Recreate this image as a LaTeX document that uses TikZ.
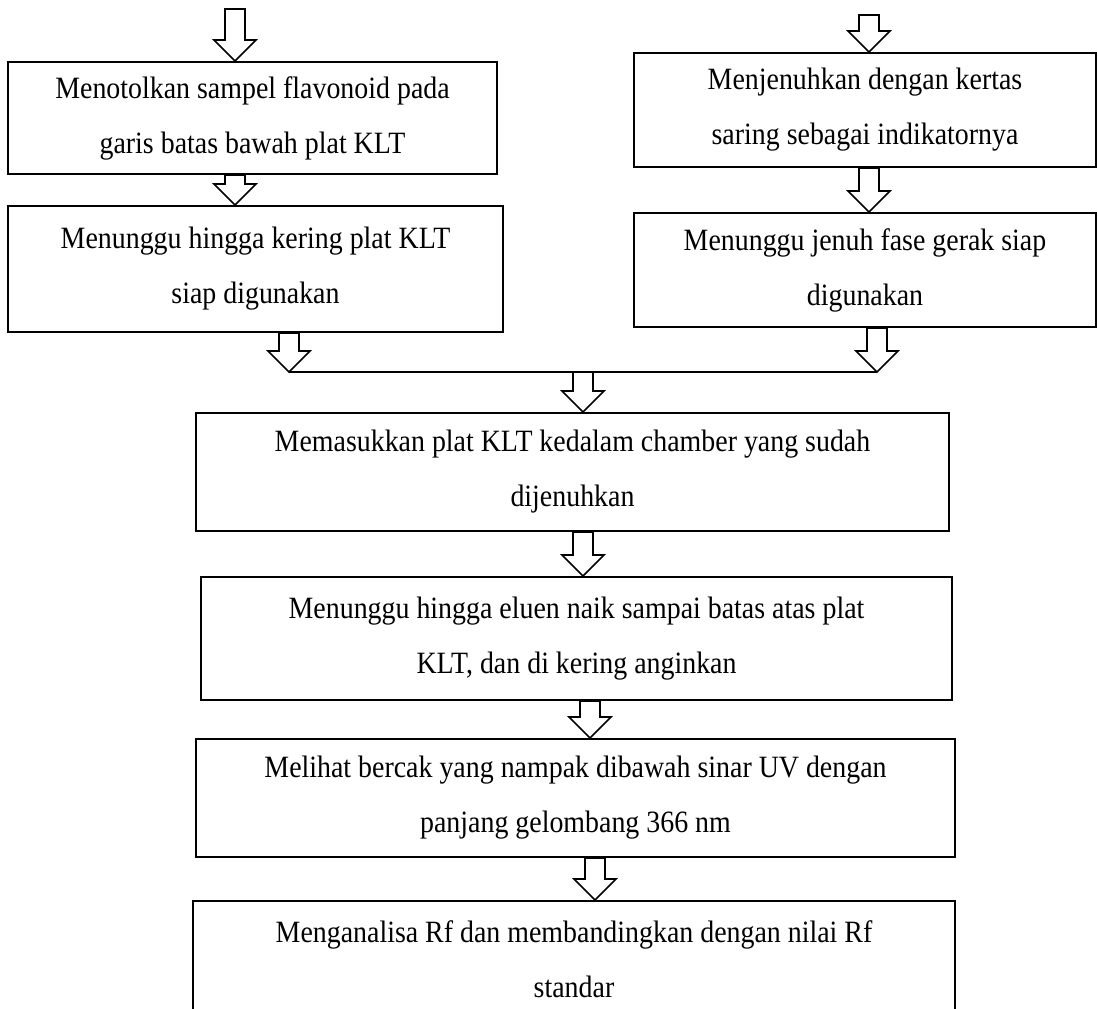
\documentclass[tikz,border=0pt]{standalone}
\usepackage{fontspec}
\setmainfont[FakeStretch=0.9]{Liberation Serif}
\usetikzlibrary{calc}

% panah blok berongga dari titik #1 ke ujung #2
\newcommand{\panah}[2]{%
  \draw[panahblok] let \p1=#1, \p2=#2 in
    (\x1-10pt,\y1) -- (\x1+10pt,\y1) -- (\x1+10pt,\y2+21pt)
    -- (\x1+21pt,\y2+21pt) -- (\x1,\y2) -- (\x1-21pt,\y2+21pt)
    -- (\x1-10pt,\y2+21pt) -- cycle;}

\begin{document}
\begin{tikzpicture}[x=1pt, y=-1pt,
    kotak/.style={draw, line width=2pt, align=center, inner sep=0pt,
      font=\fontsize{31}{55}\selectfont},
    panahblok/.style={draw, line width=1.6pt, fill=white, line join=miter},
    garis/.style={line width=1.8pt}]
            \fill[white] (0,0) rectangle (1098,1009);
            \useasboundingbox (0,0) rectangle (1098,1009);
            \clip (0,0) rectangle (1098,1009);

            % Kolom kiri
            \node[kotak, minimum width=489pt, minimum height=112pt] (kotak1) at (252.5,118)
              {Menotolkan sampel flavonoid pada\\garis batas bawah plat KLT};
            \node[kotak, minimum width=495pt, minimum height=126pt] (kotak2) at (255.5,269)
              {Menunggu hingga kering plat KLT\\siap digunakan};

            % Kolom kanan
            \node[kotak, minimum width=462pt, minimum height=114pt] (kotak3) at (865,110)
              {Menjenuhkan dengan kertas\\saring sebagai indikatornya};
            \node[kotak, minimum width=462pt, minimum height=114pt] (kotak4) at (865,270)
              {Menunggu jenuh fase gerak siap\\digunakan};

            % Langkah bersama
            \node[kotak, minimum width=753pt, minimum height=118pt] (kotak5) at (572.5,472)
              {Memasukkan plat KLT kedalam chamber yang sudah\\dijenuhkan};
            \node[kotak, minimum width=751pt, minimum height=123pt] (kotak6) at (576.5,638.5)
              {Menunggu hingga eluen naik sampai batas atas plat\\KLT, dan di kering anginkan};
            \node[kotak, minimum width=759pt, minimum height=118pt] (kotak7) at (575.5,798)
              {Melihat bercak yang nampak dibawah sinar UV dengan\\panjang gelombang 366 nm};
            \node[kotak, minimum width=762pt, minimum height=116pt] (kotak8) at (574,959)
              {Menganalisa Rf dan membandingkan dengan nilai Rf\\standar};

            % Titik bebas
            \coordinate (mulaiKiri) at (235,9);
            \coordinate (mulaiKanan) at (869,15);
            \coordinate (gabungKiri) at (289,372);
            \coordinate (gabungKanan) at (877,372);
            \coordinate (gabungTengah) at (583,372);

            % Garis penggabung
            \draw[garis] (gabungKiri) -- (gabungKanan);

            % Panah-panah
            \panah{(mulaiKiri)}{(kotak1.north -| mulaiKiri)}
            \panah{(kotak1.south -| mulaiKiri)}{(kotak2.north -| mulaiKiri)}
            \panah{(mulaiKanan)}{(kotak3.north -| mulaiKanan)}
            \panah{(kotak3.south -| mulaiKanan)}{(kotak4.north -| mulaiKanan)}
            \panah{(kotak2.south -| gabungKiri)}{(gabungKiri)}
            \panah{(kotak4.south -| gabungKanan)}{(gabungKanan)}
            \panah{(gabungTengah)}{(kotak5.north -| gabungTengah)}
            \panah{(kotak5.south -| gabungTengah)}{(kotak6.north -| gabungTengah)}
            \panah{(kotak6.south -| 590,0)}{(kotak7.north -| 590,0)}
            \panah{(kotak7.south -| 595,0)}{(kotak8.north -| 595,0)}
\end{tikzpicture}
\end{document}
